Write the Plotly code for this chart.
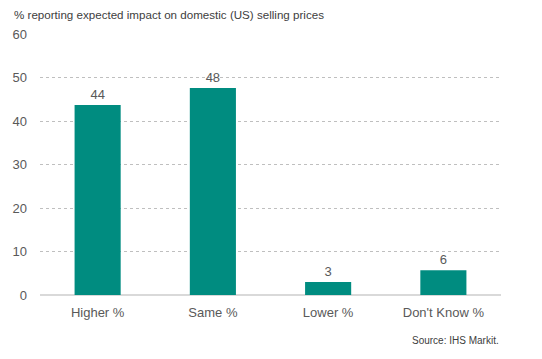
import plotly.graph_objects as go

categories = ["Higher %", "Same %", "Lower %", "Don't Know %"]
values = [43.7, 47.6, 3.0, 5.7]
labels = ["44", "48", "3", "6"]
y_ticks = [0, 10, 20, 30, 40, 50, 60]

font = "Liberation Sans, Arial, sans-serif"
gray = "#595959"

fig = go.Figure(go.Bar(
    x=categories, y=values, text=labels, textposition="outside",
    textfont=dict(family=font, size=13, color=gray),
    marker=dict(color="#008C80", line=dict(width=0)),
    cliponaxis=False,
))
fig.update_layout(
    width=542, height=359,
    margin=dict(l=32, r=49, t=26, b=72),
    paper_bgcolor="white", plot_bgcolor="white",
    bargap=0.6, showlegend=False,
    font=dict(family=font, color=gray, size=13),
    xaxis=dict(showgrid=False, showline=False, ticks="", automargin=False,
               ticklabelstandoff=8, tickfont=dict(size=13, color=gray)),
    yaxis=dict(range=[0, 60], tickvals=y_ticks, showgrid=True, gridcolor="#BFBFBF",
               griddash="dot", gridwidth=1, zeroline=True, zerolinecolor="#D9D9D9",
               zerolinewidth=1.5, ticks="", ticklabelstandoff=12, automargin=False,
               tickfont=dict(size=13, color=gray)),
    annotations=[
        dict(text="% reporting expected impact on domestic (US) selling prices",
             xref="paper", yref="paper", x=-0.06, y=1.0, yshift=20, xanchor="left",
             yanchor="middle", showarrow=False, font=dict(size=11.6, color="#404040")),
        dict(text="Source: IHS Markit.", xref="paper", yref="paper", x=1.0, y=0,
             yshift=-45, xanchor="right", yanchor="middle", showarrow=False,
             font=dict(size=10, color="#404040")),
    ],
)
fig.write_html("out.html")
